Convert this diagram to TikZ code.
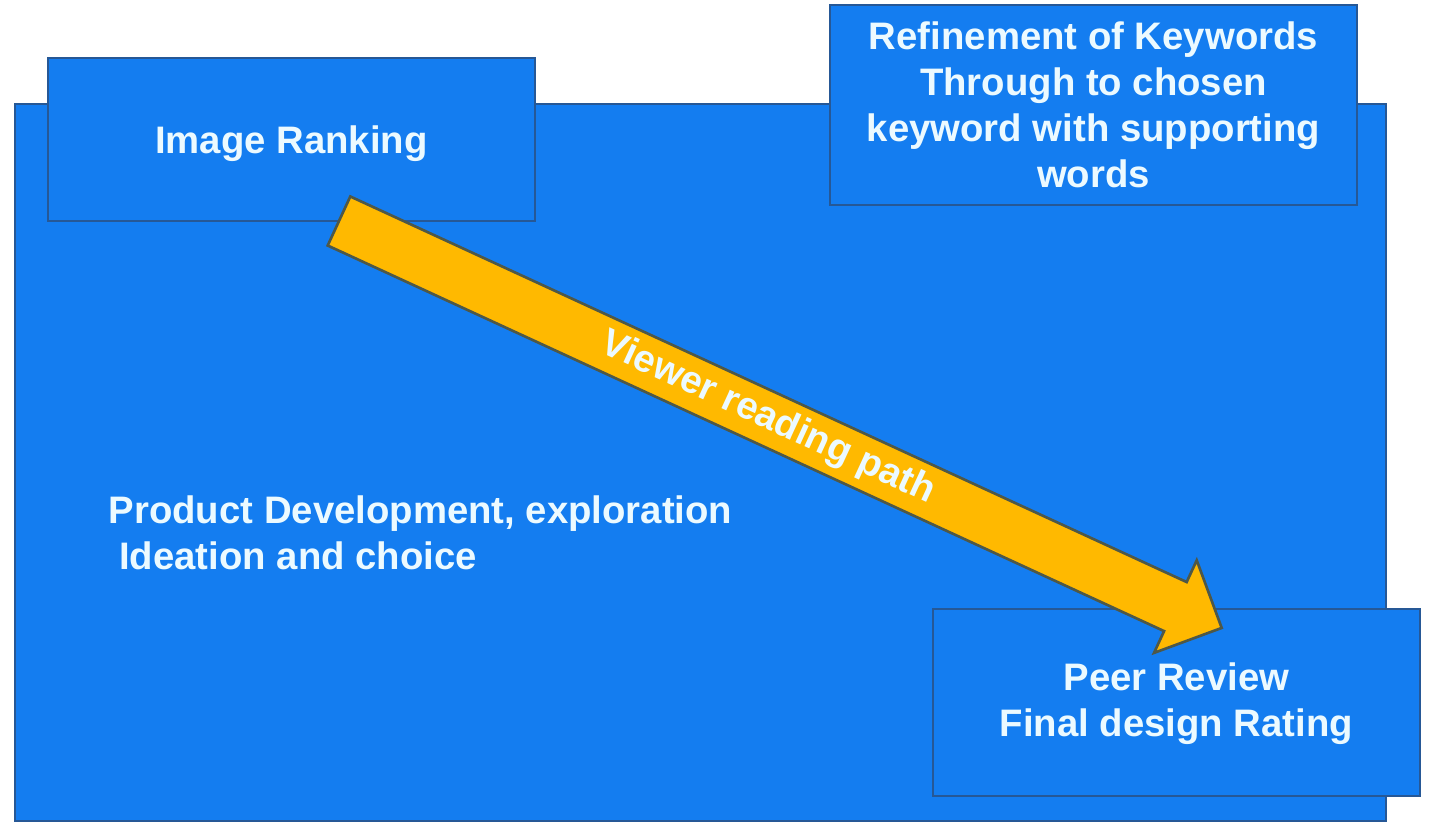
\documentclass[tikz,border=0pt]{standalone}
\usepackage{fontspec}
\setmainfont{Liberation Sans}
\definecolor{panelblue}{RGB}{20,125,240}
\definecolor{edgeblue}{RGB}{38,88,150}
\definecolor{arrowgold}{RGB}{255,185,0}
\definecolor{arrowedge}{RGB}{78,88,72}
\definecolor{labelwhite}{RGB}{236,250,255}
\begin{document}
\begin{tikzpicture}[x=0.1mm,y=-0.1mm,
  panel/.style={draw=edgeblue, line width=0.6pt, fill=panelblue, inner sep=0pt},
  labeltext/.style={text=labelwhite, font=\fontsize{10.9}{13.1}\selectfont\bfseries, align=center},
  arrowbody/.style={draw=arrowedge, line width=0.75pt, fill=arrowgold, line join=miter},
]
\useasboundingbox[fill=white] (0,0) rectangle (1430,824);

% background panel
\node[panel, minimum width=137.1mm, minimum height=71.7mm] (board) at (700.5,462.5) {};

% stage boxes
\node[panel, minimum width=48.7mm, minimum height=16.3mm] (ranking) at (291.5,139.5) {};
\node[labeltext, inner sep=0pt] (rankinglabel) at ([yshift=-1.2pt]ranking.center) {Image Ranking};

\node[panel, labeltext, minimum width=52.7mm, minimum height=20mm] (refine) at (1093.5,105)
  {Refinement of Keywords\\Through to chosen\\keyword with supporting\\words};

\node[panel, minimum width=48.7mm, minimum height=18.7mm] (review) at (1176.5,702.5) {};
\node[labeltext, inner sep=0pt] (reviewlabel) at ([yshift=-0.3pt]review.center)
  {Peer Review\\Final design Rating};

% free text on the panel
\node[labeltext, align=left, anchor=north west, inner sep=0pt] (product) at (108,495)
  {Product Development, exploration\\\hspace*{3pt}Ideation and choice};

% reading path arrow
\coordinate (tail) at (339,221);
\coordinate (tip) at (1222,628);
\begin{scope}[shift={(tail)}, rotate=-24.75]
  \draw[arrowbody] (0,-27) -- (921,-27) -- (921,-51) -- (972,0) -- (921,51) -- (921,27) -- (0,27) -- cycle;
  \node[labeltext, rotate=-24.75, inner sep=0pt] (pathlabel) at (472,0) {Viewer reading path};
\end{scope}
\end{tikzpicture}
\end{document}
